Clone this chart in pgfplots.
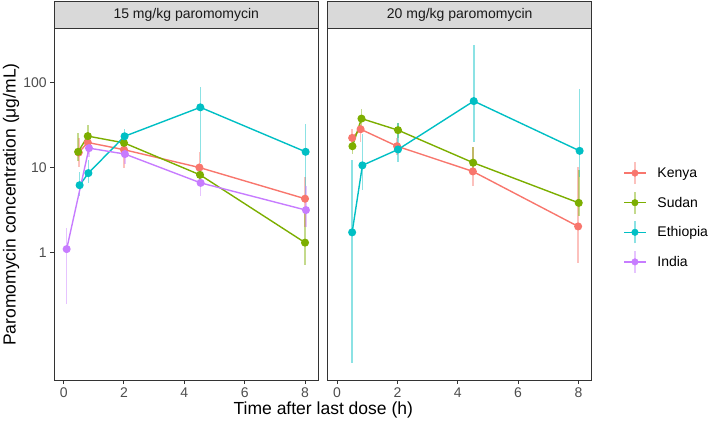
\documentclass[border=0pt]{standalone}
\usepackage{fontspec}
\setmainfont{Liberation Sans}
\usepackage{pgfplots}
\usepackage{pgfplotstable}
\pgfplotsset{compat=1.18}

\definecolor{kenya}{HTML}{F8766D}
\definecolor{sudan}{HTML}{7CAE00}
\definecolor{ethiopia}{HTML}{00BFC4}
\definecolor{india}{HTML}{C77CFF}
\definecolor{grey10}{HTML}{1A1A1A}
\definecolor{grey20}{HTML}{333333}
\definecolor{grey30}{HTML}{4D4D4D}
\definecolor{grey85}{HTML}{D9D9D9}

% 15 mg/kg: time, mean, lower, upper
\pgfplotstableread{
x y lo hi
0.50 15.0 10.2 22.0
0.80 19.7 14.5 26.0
2.00 16.2 9.8 25.0
4.50 10.0 6.5 15.3
8.00 4.3 2.0 7.8
}\kenyaA
\pgfplotstableread{
x y lo hi
0.48 15.3 12.0 25.5
0.80 23.4 19.4 31.5
2.00 19.5 16.0 24.0
4.52 8.2 6.0 11.0
8.00 1.31 0.72 3.2
}\sudanA
\pgfplotstableread{
x y lo hi
0.53 6.2 4.6 8.9
0.82 8.6 6.5 12.2
2.02 23.3 17.5 28.7
4.53 51.0 11.2 88.0
8.02 15.3 4.5 32.8
}\ethiopiaA
\pgfplotstableread{
x y lo hi
0.10 1.10 0.25 1.96
0.84 16.9 13.4 19.4
2.03 14.4 11.0 18.0
4.54 6.6 4.6 8.6
8.03 3.16 2.0 6.0
}\indiaA

% 20 mg/kg
\pgfplotstableread{
x y lo hi
0.50 22.3 17.5 28.0
0.78 28.2 20.0 35.0
1.99 17.8 14.0 22.0
4.50 9.0 6.0 17.5
7.99 2.03 0.76 10.2
}\kenyaB
\pgfplotstableread{
x y lo hi
0.51 17.8 14.6 21.0
0.81 37.6 28.0 49.0
2.02 27.5 22.0 33.0
4.51 11.4 9.0 17.5
8.01 3.84 2.66 9.3
}\sudanB
\pgfplotstableread{
x y lo hi
0.50 1.73 0.05 12.2
0.84 10.6 5.5 25.0
2.02 16.3 11.7 33.0
4.53 60.4 20.0 272.0
8.04 15.7 7.8 84.0
}\ethiopiaB

\pgfplotsset{every axis/.append style={
    scale only axis, width=264pt, height=351pt,
    ymin=0.0318, ymax=425,
    xmin=-0.31, xmax=8.44,
    xtick={0,2,4,6,8}, xticklabels={0,2,4,6,8},
    yminorticks=false,
    tick align=outside, major tick length=4pt,
    xtick pos=bottom, ytick pos=left,
    axis line style={grey20, line width=1pt},
    tick style={grey20, line width=1pt},
    tick label style={font=\fontsize{14}{16}\selectfont, text=grey30},
    clip=false}}
\newcommand{\ebars}[2]{\addplot[draw=none, forget plot,
  error bars/.cd, y dir=both, y explicit, error mark=none,
  error bar style={draw=#1, opacity=0.45, line width=1.6pt}]
  table[x=x, y=y,
  y error plus expr=\thisrow{hi}-\thisrow{y},
  y error minus expr=\thisrow{y}-\thisrow{lo}] {#2};}
\newcommand{\series}[2]{\addplot[#1, line width=1.4pt, mark=*, mark size=3.3pt, forget plot] table[x=x, y=y] {#2};}
\newcommand{\keyimg}[1]{\addlegendimage{legend image code/.code={
  \draw[#1, opacity=0.45, line width=1.6pt] (10.8pt,-11pt) -- (10.8pt,11pt);
  \draw[#1, line width=1.4pt] (0pt,0pt) -- (21.6pt,0pt);
  \fill[#1] (10.8pt,0pt) circle (3.3pt);}}}

\begin{document}
\begin{tikzpicture}
\path[use as bounding box] (0,0) rectangle (708pt,425pt);

\begin{semilogyaxis}[at={(54.3pt,45pt)}, anchor=south west,
  ytick={1,10,100}, yticklabels={1,10,100},
  xlabel={Time after last dose (h)},
  xlabel style={at={(rel axis cs:1.019,0)}, anchor=center, yshift=-30pt,
    font=\fontsize{17.5}{20}\selectfont},
  ylabel={Paromomycin concentration (μg/mL)},
  ylabel style={at={(rel axis cs:-0.164,0.5)}, anchor=center,
    font=\fontsize{17.5}{20}\selectfont},
]
\ebars{kenya}{\kenyaA}
\ebars{sudan}{\sudanA}
\ebars{ethiopia}{\ethiopiaA}
\ebars{india}{\indiaA}
\series{kenya}{\kenyaA}
\series{sudan}{\sudanA}
\series{ethiopia}{\ethiopiaA}
\series{india}{\indiaA}
\draw[grey20, fill=grey85, line width=1pt] (rel axis cs:0,1) rectangle (rel axis cs:1,1.0786);
\node[font=\fontsize{14}{16}\selectfont, text=grey10] at (rel axis cs:0.5,1.0393) {15 mg/kg paromomycin};
\end{semilogyaxis}

\begin{semilogyaxis}[at={(327.7pt,45pt)}, anchor=south west,
  ytick=\empty,
  legend style={at={(rel axis cs:1.108,0.463)}, anchor=west, draw=none, fill=none,
    font=\fontsize{14}{16}\selectfont, row sep=6pt,
    /tikz/every odd column/.append style={column sep=9pt}},
  legend cell align=left,
]
\ebars{kenya}{\kenyaB}
\ebars{sudan}{\sudanB}
\ebars{ethiopia}{\ethiopiaB}
\series{kenya}{\kenyaB}
\series{sudan}{\sudanB}
\series{ethiopia}{\ethiopiaB}
\draw[grey20, fill=grey85, line width=1pt] (rel axis cs:0,1) rectangle (rel axis cs:1,1.0786);
\node[font=\fontsize{14}{16}\selectfont, text=grey10] at (rel axis cs:0.5,1.0393) {20 mg/kg paromomycin};
\keyimg{kenya}\addlegendentry{Kenya}
\keyimg{sudan}\addlegendentry{Sudan}
\keyimg{ethiopia}\addlegendentry{Ethiopia}
\keyimg{india}\addlegendentry{India}
\end{semilogyaxis}
\end{tikzpicture}
\end{document}
